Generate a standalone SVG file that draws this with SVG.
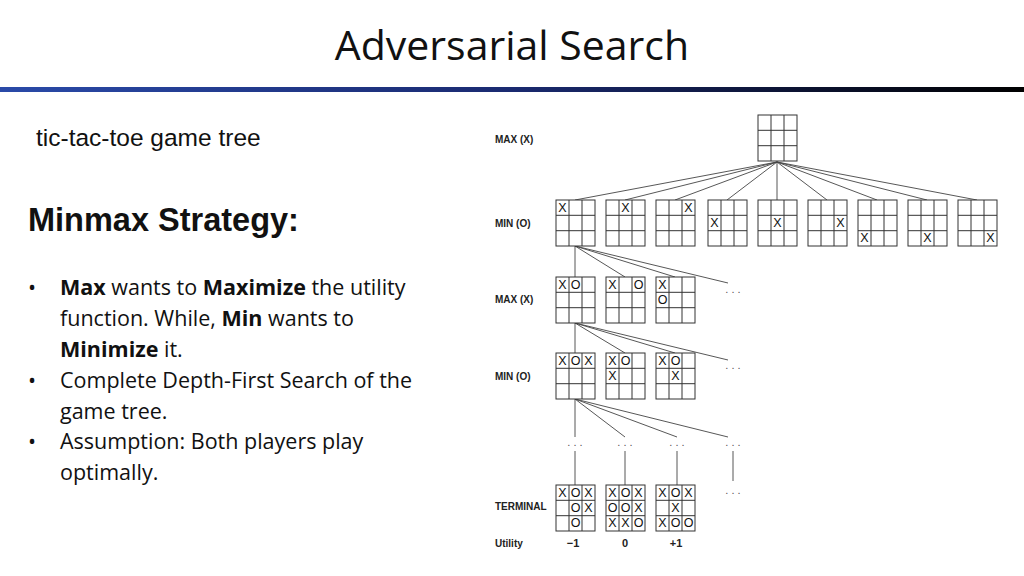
<svg xmlns="http://www.w3.org/2000/svg" xmlns:xlink="http://www.w3.org/1999/xlink" width="1024" height="576" viewBox="0 0 1024 576">
<style>
.lbl{font-family:"Liberation Sans",Arial,sans-serif;font-size:10px;font-weight:bold;fill:#222}
.m{font-family:"Liberation Sans",Arial,sans-serif;font-size:12.5px;fill:#111;text-anchor:middle}
.b{font-family:"Open Sans",sans-serif;font-size:21.5px;fill:#111}
.e{stroke:#444;stroke-width:0.9;fill:none}
.d{font-family:"Liberation Sans",sans-serif;font-size:11px;fill:#555;text-anchor:middle}
</style>
<defs>
<linearGradient id="bar" x1="0" x2="1"><stop offset="0" stop-color="#2a4aa8"/><stop offset="0.5" stop-color="#1a2a70"/><stop offset="1" stop-color="#000"/></linearGradient>
<g id="grid"><rect x="0" y="0" width="39" height="46" fill="#fff" stroke="#333" stroke-width="1"/><path d="M13 0V46M26 0V46M0 15.3H39M0 30.7H39" stroke="#333" stroke-width="1"/></g>
</defs>
<rect width="1024" height="576" fill="#fff"/>
<text x="512" y="60" text-anchor="middle" font-family="Open Sans,sans-serif" font-size="41" fill="#111">Adversarial Search</text>
<rect x="0" y="87" width="1024" height="5" fill="url(#bar)"/>
<text x="36" y="146" font-family="Liberation Sans,Arial,sans-serif" font-size="24.5" fill="#111">tic-tac-toe game tree</text>
<text x="28" y="231" font-family="Liberation Sans,Arial,sans-serif" font-size="32.5" font-weight="bold" fill="#111">Minmax Strategy:</text>
<g class="b">
<text x="28" y="295">•</text><text x="60" y="295"><tspan font-weight="bold">Max</tspan> wants to <tspan font-weight="bold">Maximize</tspan> the utility</text>
<text x="60" y="326">function. While, <tspan font-weight="bold">Min</tspan> wants to</text>
<text x="60" y="357"><tspan font-weight="bold">Minimize</tspan> it.</text>
<text x="28" y="388">•</text><text x="60" y="388">Complete Depth-First Search of the</text>
<text x="60" y="419">game tree.</text>
<text x="28" y="449">•</text><text x="60" y="449">Assumption: Both players play</text>
<text x="60" y="480">optimally.</text>
</g>
<g id="labels" class="lbl">
<text x="495" y="143">MAX (X)</text><text x="495" y="227">MIN (O)</text><text x="495" y="303">MAX (X)</text><text x="495" y="380">MIN (O)</text><text x="495" y="510">TERMINAL</text><text x="495" y="547">Utility</text>
<text x="573" y="547" text-anchor="middle" font-size="11">−1</text><text x="625" y="547" text-anchor="middle" font-size="11">0</text><text x="676" y="547" text-anchor="middle" font-size="11">+1</text>
</g>
<g id="connectors" class="e">
<path d="M777 162L575 200M777 162L625 200M777 162L675 200M777 162L727 200M777 162L777 200M777 162L827 200M777 162L877 200M777 162L927 200M777 162L977 200"/>
<path d="M575 246L575 277M575 246L625 277M575 246L675 277M575 246L728 283"/>
<path d="M575 323L575 353M575 323L625 353M575 323L675 353M575 323L728 360"/>
<path d="M575 399L575 437M575 399L625 437M575 399L677 437M575 399L728 437"/>
<path d="M575 451L575 485M625 451L625 485M677 451L677 485M733 451L733 481"/>
</g>
<g id="dots" class="d">
<text x="733" y="293">. . .</text><text x="733" y="369">. . .</text>
<text x="575" y="446">. . .</text><text x="625" y="446">. . .</text><text x="677" y="446">. . .</text><text x="733" y="446">. . .</text>
<text x="733" y="494">. . .</text>
</g>
<g id="root"><use xlink:href="#grid" x="758" y="115"/></g>
<g id="level1" class="m">
<use xlink:href="#grid" x="556" y="200"/><text x="562.5" y="212">X</text>
<use xlink:href="#grid" x="606" y="200"/><text x="625.5" y="212">X</text>
<use xlink:href="#grid" x="656" y="200"/><text x="688.5" y="212">X</text>
<use xlink:href="#grid" x="708" y="200"/><text x="714.5" y="227">X</text>
<use xlink:href="#grid" x="758" y="200"/><text x="777.5" y="227">X</text>
<use xlink:href="#grid" x="808" y="200"/><text x="840.5" y="227">X</text>
<use xlink:href="#grid" x="858" y="200"/><text x="864.5" y="242">X</text>
<use xlink:href="#grid" x="908" y="200"/><text x="927.5" y="242">X</text>
<use xlink:href="#grid" x="958" y="200"/><text x="990.5" y="242">X</text>
</g>
<g id="level2" class="m">
<use xlink:href="#grid" x="556" y="277"/><text x="562.5" y="289">X</text><text x="575.5" y="289">O</text>
<use xlink:href="#grid" x="606" y="277"/><text x="612.5" y="289">X</text><text x="638.5" y="289">O</text>
<use xlink:href="#grid" x="656" y="277"/><text x="662.5" y="289">X</text><text x="662.5" y="304">O</text>
</g>
<g id="level3" class="m">
<use xlink:href="#grid" x="556" y="353"/><text x="562.5" y="365">X</text><text x="575.5" y="365">O</text><text x="588.5" y="365">X</text>
<use xlink:href="#grid" x="606" y="353"/><text x="612.5" y="365">X</text><text x="625.5" y="365">O</text><text x="612.5" y="380">X</text>
<use xlink:href="#grid" x="656" y="353"/><text x="662.5" y="365">X</text><text x="675.5" y="365">O</text><text x="675.5" y="380">X</text>
</g>
<g id="terminal" class="m">
<use xlink:href="#grid" x="556" y="485"/><text x="562.5" y="497">X</text><text x="575.5" y="497">O</text><text x="588.5" y="497">X</text><text x="575.5" y="512">O</text><text x="588.5" y="512">X</text><text x="575.5" y="527">O</text>
<use xlink:href="#grid" x="606" y="485"/><text x="612.5" y="497">X</text><text x="625.5" y="497">O</text><text x="638.5" y="497">X</text><text x="612.5" y="512">O</text><text x="625.5" y="512">O</text><text x="638.5" y="512">X</text><text x="612.5" y="527">X</text><text x="625.5" y="527">X</text><text x="638.5" y="527">O</text>
<use xlink:href="#grid" x="656" y="485"/><text x="662.5" y="497">X</text><text x="675.5" y="497">O</text><text x="688.5" y="497">X</text><text x="675.5" y="512">X</text><text x="662.5" y="527">X</text><text x="675.5" y="527">O</text><text x="688.5" y="527">O</text>
</g>
</svg>
